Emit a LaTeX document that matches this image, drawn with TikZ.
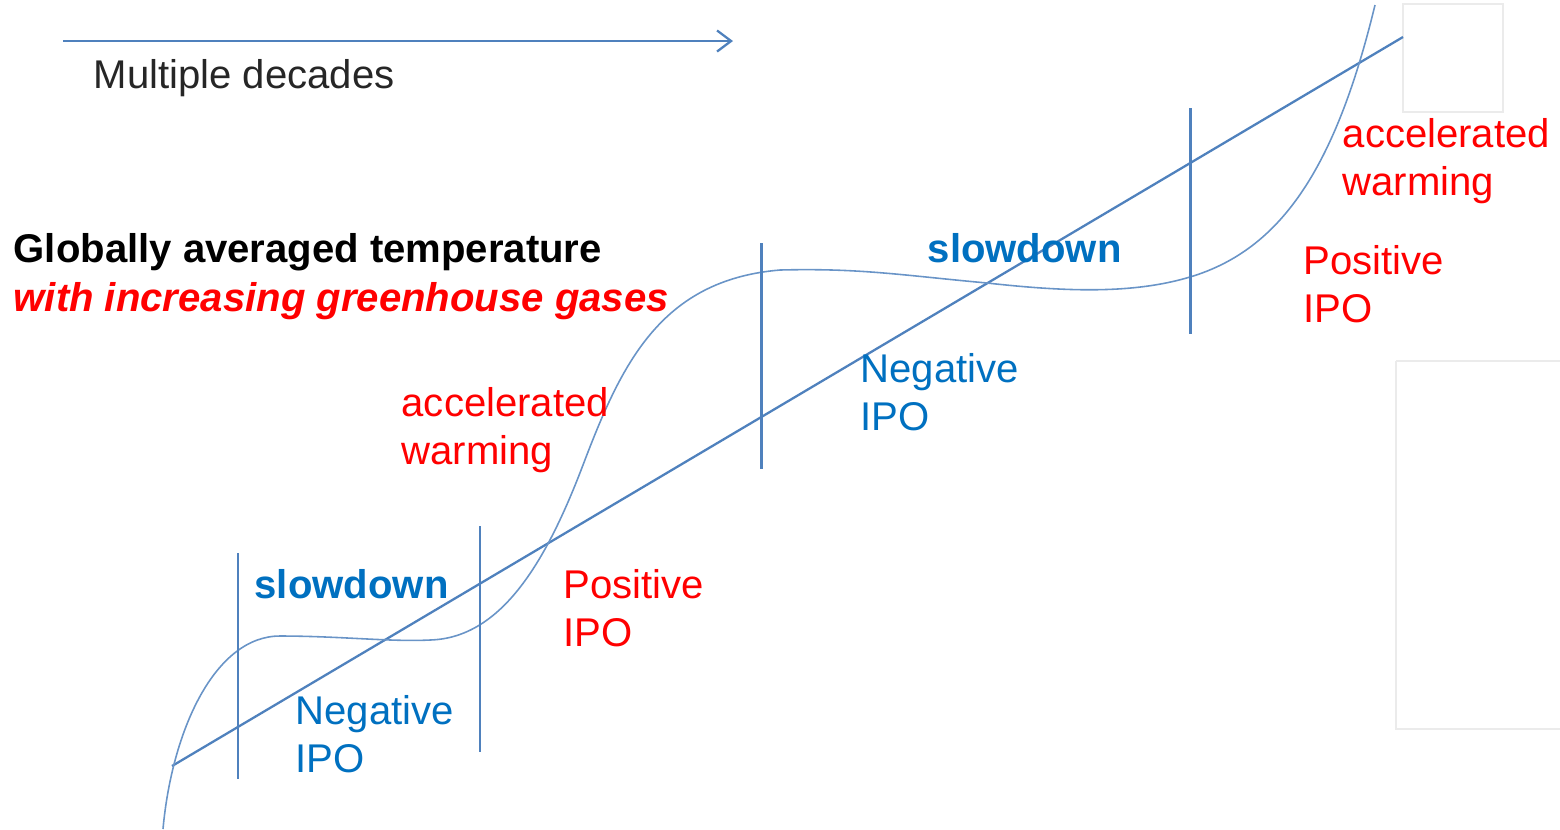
\documentclass[tikz,border=0pt]{standalone}
\usepackage{fontspec}
\setmainfont{Liberation Sans}
\usetikzlibrary{arrows.meta}

\definecolor{lineblue}{RGB}{79,129,189}
\definecolor{txtblue}{RGB}{0,112,192}
\definecolor{txtred}{RGB}{255,0,0}

\begin{document}
\begin{tikzpicture}[
  x=0.01cm, y=-0.01cm,
  curve/.style={draw=lineblue!85, line width=0.45pt},
  trend/.style={draw=lineblue, line width=0.65pt},
  divider/.style={draw=lineblue, line width=0.85pt},
  lbl/.style={font=\fontsize{11.4}{13.4}\selectfont, inner sep=0pt,
              anchor=base west, align=left},
  ghost/.style={draw=black!8, line width=0.3pt}
]
\useasboundingbox (0,0) rectangle (1560,829);

% ===== faint frames at the right edge =====
\draw[ghost] (1403,4) rectangle (1503,112);
\draw[ghost] (1396,361) -- (1396,729) -- (1560,729);
\draw[ghost] (1396,361) -- (1560,361);

% ===== time arrow =====
\draw[trend, -{Straight Barb[length=4pt, width=6pt]}] (63,41) -- (733,41);
\node[lbl, text=black!85] (decades) at (93,88) {Multiple decades};

% ===== title =====
\node[lbl, font=\fontsize{11.4}{13.4}\selectfont\bfseries] (title) at (13,262)
  {Globally averaged temperature};
\node[lbl, font=\fontsize{11.4}{13.4}\selectfont\bfseries\itshape, text=txtred] (ghg) at (13,311)
  {with increasing greenhouse gases};

% ===== trend line and curve =====
\draw[trend] (172,766) -- (1403,37);
\draw[curve] (163,829) .. controls (172,730) and (215,636) .. (280,636)
  .. controls (340,636) and (390,642) .. (430,640)
  .. controls (500,638) and (545,565) .. (583,465)
  .. controls (621,365) and (660,280) .. (780,270)
  .. controls (860,268) and (900,275) .. (987,283)
  .. controls (1060,291) and (1130,295) .. (1190,277)
  .. controls (1280,250) and (1335,170) .. (1375,5);

% ===== phase dividers =====
\foreach \x/\top in {238/553, 480/526, 761/243, 1190/108}
  \draw[divider] (\x,\top) -- ++(0,226);

% ===== phase labels (base = last line) =====
\node[lbl, font=\fontsize{11.4}{13.4}\selectfont\bfseries, text=txtblue] (slowA) at (254,598) {slowdown};
\node[lbl, text=txtblue] (negA) at (295,772) {Negative\\IPO};
\node[lbl, text=txtred] (accA) at (401,464) {accelerated\\warming};
\node[lbl, text=txtred] (posA) at (563,646) {Positive\\IPO};
\node[lbl, font=\fontsize{11.4}{13.4}\selectfont\bfseries, text=txtblue] (slowB) at (927,262) {slowdown};
\node[lbl, text=txtblue] (negB) at (860,430) {Negative\\IPO};
\node[lbl, text=txtred] (accB) at (1342,195) {accelerated\\warming};
\node[lbl, text=txtred] (posB) at (1303,322) {Positive\\IPO};

\end{tikzpicture}
\end{document}
